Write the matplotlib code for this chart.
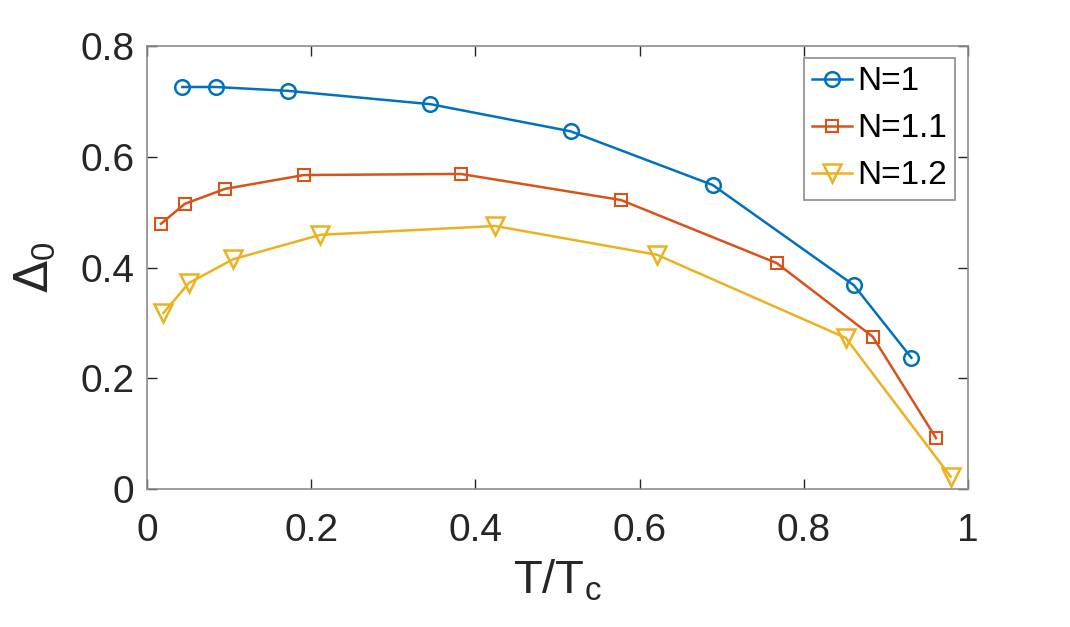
import matplotlib.pyplot as plt

# reduced temperature and gap values
t_n1 = [0.043, 0.084, 0.172, 0.345, 0.516, 0.689, 0.861, 0.931]
d_n1 = [0.726, 0.726, 0.719, 0.695, 0.646, 0.549, 0.368, 0.237]

t_n11 = [0.017, 0.046, 0.095, 0.191, 0.382, 0.577, 0.767, 0.884, 0.961]
d_n11 = [0.479, 0.515, 0.542, 0.567, 0.569, 0.522, 0.408, 0.275, 0.092]

t_n12 = [0.020, 0.051, 0.105, 0.211, 0.424, 0.621, 0.851, 0.979]
d_n12 = [0.318, 0.372, 0.415, 0.459, 0.475, 0.423, 0.273, 0.022]

labels = ['N=1', 'N=1.1', 'N=1.2']
xticks = [0, 0.2, 0.4, 0.6, 0.8, 1]
yticks = [0, 0.2, 0.4, 0.6, 0.8]

plt.rcParams['font.family'] = ['Liberation Sans', 'DejaVu Sans']

fig = plt.figure(figsize=(10.7, 6.27), dpi=100)
ax = fig.add_axes([0.1374, 0.2201, 0.7673, 0.7065])

ax.plot(t_n1, d_n1, '-o', color='#0072BD', lw=1.8, ms=10.5, mew=1.8,
        mfc='none', label=labels[0])
ax.plot(t_n11, d_n11, '-s', color='#D95319', lw=1.8, ms=8, mew=1.5,
        mfc='none', label=labels[1])
ax.plot(t_n12, d_n12, '-v', color='#EDB120', lw=1.8, ms=12.5, mew=1.8,
        mfc='none', label=labels[2])

ax.set_xlim(0, 1)
ax.set_ylim(0, 0.8)
ax.set_xticks(xticks)
ax.set_xticklabels(['0', '0.2', '0.4', '0.6', '0.8', '1'])
ax.set_yticks(yticks)
ax.set_yticklabels(['0', '0.2', '0.4', '0.6', '0.8'])
ax.tick_params(direction='in', length=7, width=1, top=True, right=True,
               labelsize=28, colors='#262626')
ax.tick_params(axis='x', pad=17)
ax.tick_params(axis='y', pad=9)
for s in ax.spines.values():
    s.set_color('#8c8c8c')
    s.set_linewidth(1.2)

ax.set_xlabel(r'T/T$_{\mathregular{c}}$', fontsize=34, color='#262626', labelpad=7)
ax.set_ylabel(r'$\Delta_{\mathregular{0}}$', fontsize=34, color='#262626', labelpad=16)

leg = ax.legend(loc='upper right', bbox_to_anchor=(955 / 1070, 1 - 58 / 627),
                bbox_transform=fig.transFigure, borderaxespad=0, fontsize=24,
                fancybox=False, framealpha=1, edgecolor='#8c8c8c',
                handlelength=1.2, handletextpad=0.15, labelspacing=0.48,
                borderpad=0.25)
leg.get_frame().set_linewidth(1.2)

fig.savefig('out.png', dpi=100)
